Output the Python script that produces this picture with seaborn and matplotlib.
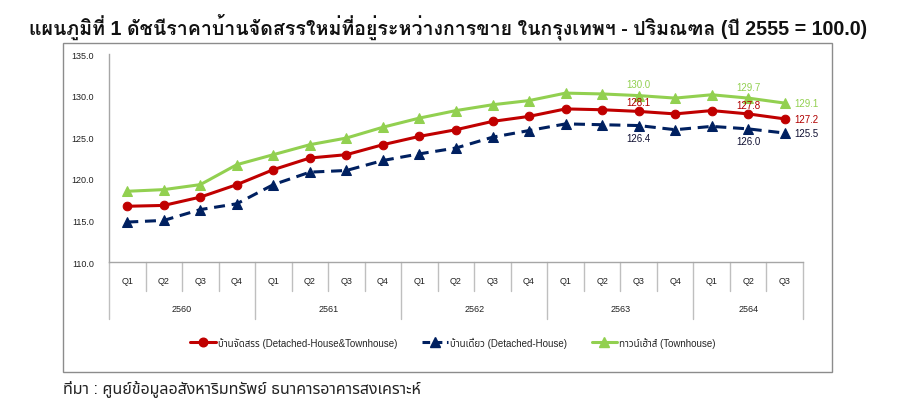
import matplotlib
matplotlib.use("Agg")
import matplotlib.pyplot as plt
import matplotlib.transforms as mtransforms
from matplotlib import font_manager, ft2font
from matplotlib.lines import Line2D
from matplotlib.patches import Rectangle
import seaborn as sns
import pandas as pd

# ---------------- data ----------------
quarters = ["Q1", "Q2", "Q3", "Q4", "Q1", "Q2", "Q3", "Q4", "Q1", "Q2", "Q3", "Q4",
            "Q1", "Q2", "Q3", "Q4", "Q1", "Q2", "Q3"]
years = ["2560", "2561", "2562", "2563", "2564"]
quarters_per_year = [4, 4, 4, 4, 3]

allhouse = [116.7, 116.8, 117.8, 119.3, 121.1, 122.5, 122.9, 124.1, 125.1, 125.9,
            126.9, 127.5, 128.4, 128.3, 128.1, 127.8, 128.2, 127.8, 127.2]
detached = [114.8, 115.0, 116.3, 117.0, 119.3, 120.8, 121.0, 122.2, 123.0, 123.7,
            125.0, 125.8, 126.6, 126.5, 126.4, 125.9, 126.3, 126.0, 125.5]
townhouse = [118.5, 118.7, 119.3, 121.7, 122.9, 124.1, 124.9, 126.2, 127.3, 128.2,
             128.9, 129.4, 130.3, 130.2, 130.0, 129.7, 130.1, 129.7, 129.1]
labelled_points = [14, 17, 18]

series_names = ["บ้านจัดสรร (Detached-House&Townhouse)",
                "บ้านเดี่ยว (Detached-House)",
                "ทาวน์เฮ้าส์ (Townhouse)"]
title = "แผนภูมิที่ 1 ดัชนีราคาบ้านจัดสรรใหม่ที่อยู่ระหว่างการขาย ในกรุงเทพฯ - ปริมณฑล (ปี 2555 = 100.0)"
source = "ที่มา : ศูนย์ข้อมูลอสังหาริมทรัพย์ ธนาคารอาคารสงเคราะห์"
yticks = [110.0, 115.0, 120.0, 125.0, 130.0, 135.0]

# ---------------- fonts ----------------
def _w(v):
    if isinstance(v, (int, float)):
        return v
    return {"bold": 700, "semibold": 600, "demibold": 600, "heavy": 800,
            "black": 900, "extra bold": 800}.get(str(v).lower(), 400)

def find_thai_families():
    prefs = ["Noto Sans Thai", "Noto Sans Thai UI", "Loma", "Garuda", "Waree",
             "Tlwg Typo", "Sawasdee", "Umpush", "Norasi", "Kinnari", "Laksaman"]
    fam_weights = {}
    for f in font_manager.fontManager.ttflist:
        try:
            cm = ft2font.FT2Font(f.fname).get_charmap()
        except Exception:
            continue
        if 0x0E01 in cm and 0x0E49 in cm and 0x0E35 in cm:
            fam_weights.setdefault(f.name, set()).add(_w(f.weight))
    if not fam_weights:
        return None, None
    order = [p for p in prefs if p in fam_weights] + \
            [n for n in fam_weights if n not in prefs]
    regular = order[0]
    bold = regular
    for n in order:
        if max(fam_weights[n]) >= 600:
            bold = n
            break
    return regular, bold

sns.set_theme(style="white")
thai, thai_bold = find_thai_families()
fams = ["Liberation Sans"] + ([thai] if thai else []) + ["DejaVu Sans"]
fams_bold = ["Liberation Sans"] + ([thai_bold] if thai_bold else []) + ["DejaVu Sans"]
plt.rcParams["font.family"] = fams

RED = "#C00000"
NAVY = "#002060"
GREEN = "#92D050"

fig = plt.figure(figsize=(9.12, 4.14), dpi=100)
W, H = 912, 414
ax = fig.add_axes([109 / W, 1 - 263 / H, 694 / W, 208 / H])

x = list(range(len(quarters)))
df = pd.DataFrame({"x": x, "all": allhouse, "det": detached, "town": townhouse})

sns.lineplot(data=df, x="x", y="all", ax=ax, color=RED, lw=2.2, marker="o",
             markersize=6.2, markeredgecolor=RED, sort=False)
sns.lineplot(data=df, x="x", y="det", ax=ax, color=NAVY, lw=2.2, marker="^",
             markersize=6.8, markeredgecolor=NAVY, sort=False)
ax.lines[-1].set_linestyle((0, (3.6, 2.2)))
sns.lineplot(data=df, x="x", y="town", ax=ax, color=GREEN, lw=2.2, marker="^",
             markersize=6.8, markeredgecolor=GREEN, sort=False)

ax.set_xlim(-0.5, len(quarters) - 0.5)
ax.set_ylim(110, 135)
ax.set_yticks(yticks)
ax.set_yticklabels([f"{v:.1f}" for v in yticks], fontsize=6.5, color="#222222")
ax.tick_params(axis="y", length=0, pad=11)
ax.set_xticks([])
ax.set_xlabel("")
ax.set_ylabel("")
for s in ["top", "right"]:
    ax.spines[s].set_visible(False)
for s in ["left", "bottom"]:
    ax.spines[s].set_color("#A6A6A6")
    ax.spines[s].set_linewidth(1.0)

# category axis (two levels)
trans = mtransforms.blended_transform_factory(ax.transData, ax.transAxes)
axh = 208.0
for i, q in enumerate(quarters):
    ax.text(i, -18 / axh, q, transform=trans, ha="center", va="center",
            fontsize=6.5, color="#222222")
year_bounds = [-0.5]
for n in quarters_per_year:
    year_bounds.append(year_bounds[-1] + n)
for i in range(len(quarters) + 1):
    xb = i - 0.5
    y_end = -57 / axh if xb in year_bounds else -29 / axh
    ax.add_line(Line2D([xb, xb], [0, y_end], transform=trans, color="#BFBFBF",
                       lw=1.0, clip_on=False))
for k, yr in enumerate(years):
    xc = (year_bounds[k] + year_bounds[k + 1]) / 2
    ax.text(xc, -47 / axh, yr, transform=trans, ha="center", va="center",
            fontsize=6.5, color="#222222")

# data labels
for i in labelled_points:
    last = i == len(quarters) - 1
    if last:
        offs = [(7, 0), (7, 0), (7, 0)]
        ha = "left"
    else:
        offs = [(0, 6.5), (0, -9), (0, 8)]
        ha = "center"
    for vals, col, off in [(allhouse, "#B00000", offs[0]),
                           (detached, "#111133", offs[1]),
                           (townhouse, GREEN, offs[2])]:
        ax.annotate(f"{vals[i]:.1f}", (i, vals[i]), xytext=off,
                    textcoords="offset points", ha=ha, va="center",
                    fontsize=7, color=col)

# legend
handles = [
    Line2D([], [], color=RED, lw=2.2, marker="o", markersize=6.2),
    Line2D([], [], color=NAVY, lw=2.2, marker="^", markersize=6.8,
           linestyle=(0, (2.5, 1.5))),
    Line2D([], [], color=GREEN, lw=2.2, marker="^", markersize=6.8),
]
fig.legend(handles, series_names, loc="center", bbox_to_anchor=(453 / W, 1 - 343 / H),
           ncol=3, frameon=False, fontsize=7, handlelength=2.6, handletextpad=0.2,
           columnspacing=2.6)

# outer frame
fig.add_artist(Rectangle((63 / W, 1 - 373 / H), 769 / W, 329 / H, transform=fig.transFigure,
                         fill=False, edgecolor="#8C8C8C", lw=1.0))

fig.text(448 / W, 1 - 27 / H, title, ha="center", va="center", fontsize=14.1,
         fontweight="bold", color="#111111", family=fams_bold)
fig.text(63 / W, 1 - 389 / H, source, ha="left", va="center", fontsize=11.5,
         color="#222222")

fig.savefig("out.png", dpi=100)
